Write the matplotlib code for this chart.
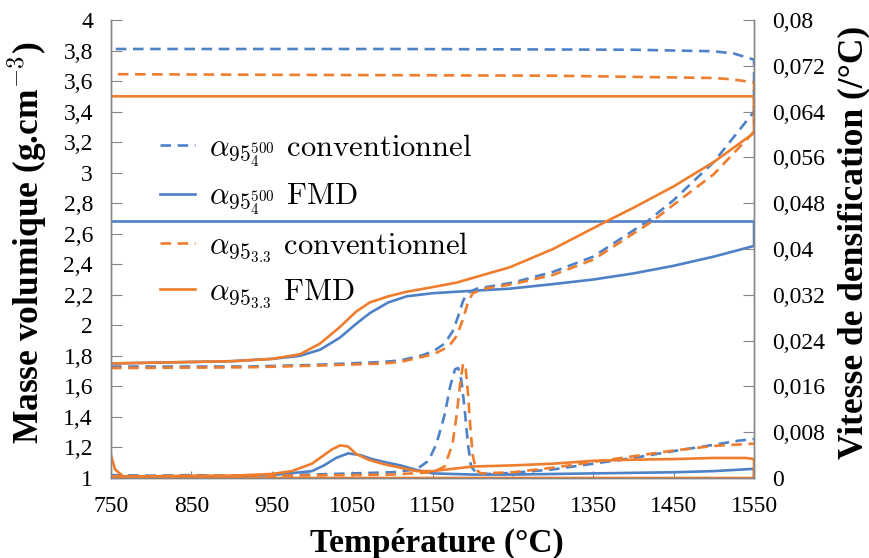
import matplotlib
matplotlib.use("Agg")
import matplotlib.pyplot as plt
from matplotlib.ticker import FuncFormatter

plt.rcParams['font.family'] = ['Liberation Serif', 'DejaVu Serif']
plt.rcParams['mathtext.fontset'] = 'cm'

BLUE = '#4F81C7'
ORANGE = '#EE7D2E'

# ---------------------------
# Masse volumique (left axis), heating + return at end of cycle
# ---------------------------
t_conv500 = [750, 920, 1000, 1088, 1110, 1135, 1151, 1165, 1175, 1182, 1188, 1193, 1205, 1250,
             1300, 1350, 1417, 1450, 1500, 1550, 1550, 1525, 1500, 1400, 1100, 750]
d_conv500 = [1.73, 1.73, 1.74, 1.76, 1.77, 1.80, 1.83, 1.88, 1.96, 2.06, 2.16, 2.21, 2.24, 2.28,
             2.35, 2.45, 2.68, 2.82, 3.07, 3.40, 3.74, 3.78, 3.795, 3.805, 3.81, 3.81]

t_fmd500 = [750, 900, 950, 985, 1010, 1035, 1055, 1072, 1095, 1118, 1150, 1180, 1246, 1300,
            1350, 1400, 1450, 1500, 1550, 1550, 750]
d_fmd500 = [1.75, 1.765, 1.78, 1.80, 1.84, 1.92, 2.01, 2.08, 2.15, 2.19, 2.21, 2.22, 2.24, 2.27,
            2.30, 2.34, 2.39, 2.45, 2.52, 2.68, 2.68]

t_conv33 = [750, 920, 1000, 1088, 1110, 1151, 1170, 1180, 1188, 1194, 1200, 1215, 1250, 1300,
            1350, 1423, 1450, 1500, 1545, 1550, 1550, 1525, 1500, 1300, 1000, 750]
d_conv33 = [1.72, 1.725, 1.735, 1.75, 1.76, 1.81, 1.86, 1.93, 2.04, 2.15, 2.21, 2.24, 2.27, 2.33,
            2.43, 2.68, 2.79, 2.99, 3.24, 3.27, 3.59, 3.61, 3.62, 3.635, 3.64, 3.645]

t_fmd33 = [750, 900, 950, 985, 1010, 1035, 1055, 1072, 1095, 1118, 1150, 1180, 1246, 1300,
           1366, 1400, 1450, 1500, 1550, 1550, 750]
d_fmd33 = [1.75, 1.765, 1.78, 1.81, 1.88, 1.99, 2.09, 2.15, 2.19, 2.22, 2.25, 2.28, 2.38, 2.50,
           2.68, 2.77, 2.91, 3.07, 3.26, 3.50, 3.50]

# ---------------------------
# Vitesse de densification (right axis)
# ---------------------------
t_rconv500 = [750, 800, 850, 900, 950, 1000, 1050, 1100, 1130, 1145, 1155, 1165, 1172, 1178,
              1182, 1186, 1190, 1194, 1198, 1205, 1220, 1250, 1300, 1350, 1400, 1450, 1500,
              1530, 1550]
r_conv500 = [0.0005, 0.0004, 0.0005, 0.0004, 0.0005, 0.0006, 0.0008, 0.0010, 0.0015, 0.003,
             0.006, 0.011, 0.016, 0.019, 0.0192, 0.017, 0.012, 0.006, 0.002, 0.0008, 0.0007,
             0.0009, 0.0015, 0.0025, 0.0035, 0.0047, 0.0058, 0.0065, 0.0068]

t_rconv33 = [750, 850, 950, 1050, 1100, 1150, 1165, 1175, 1180, 1184, 1188, 1191, 1194, 1197,
             1200, 1204, 1210, 1250, 1300, 1350, 1400, 1450, 1500, 1550]
r_conv33 = [0.0003, 0.0003, 0.0004, 0.0005, 0.0006, 0.0010, 0.002, 0.006, 0.011, 0.016, 0.0200,
            0.0195, 0.015, 0.009, 0.004, 0.0015, 0.0008, 0.0010, 0.0018, 0.0028, 0.0038, 0.0048,
            0.0056, 0.0060]

t_rfmd500 = [750, 800, 850, 900, 950, 1000, 1015, 1030, 1045, 1060, 1075, 1090, 1110, 1130,
             1150, 1200, 1250, 1300, 1350, 1400, 1450, 1500, 1550, 1550]
r_fmd500 = [0.0002, 0.0002, 0.0002, 0.0003, 0.0005, 0.0012, 0.0022, 0.0035, 0.0043, 0.0040,
            0.0033, 0.0028, 0.0022, 0.0014, 0.0008, 0.0006, 0.0006, 0.0007, 0.0008, 0.0009,
            0.0010, 0.0012, 0.0016, 0.0]

t_rfmd33 = [750, 755, 765, 800, 850, 900, 950, 975, 1000, 1015, 1025, 1035, 1045, 1055, 1070,
            1090, 1110, 1130, 1150, 1175, 1200, 1250, 1300, 1350, 1400, 1450, 1500, 1540, 1550,
            1550, 750]
r_fmd33 = [0.004, 0.0015, 0.0003, 0.0003, 0.0004, 0.0004, 0.0007, 0.0012, 0.0025, 0.004, 0.005,
           0.0057, 0.0055, 0.0042, 0.0032, 0.0024, 0.0018, 0.0012, 0.0012, 0.0016, 0.0020,
           0.0022, 0.0025, 0.0030, 0.0032, 0.0033, 0.0035, 0.0035, 0.0033, 0.0, 0.0]

labels = [r'$\alpha_{95_4^{500}}$ conventionnel', r'$\alpha_{95_4^{500}}$ FMD',
          r'$\alpha_{95_{3.3}}$ conventionnel', r'$\alpha_{95_{3.3}}$ FMD']

fig = plt.figure(figsize=(8.7, 5.58), dpi=100)
ax = fig.add_axes([0.1276, 0.1434, 0.7391, 0.8208])
ax2 = ax.twinx()

dash = (0, (4, 2.5))
lw = 1.9

l1, = ax.plot(t_conv500, d_conv500, color=BLUE, lw=lw, ls=dash)
l2, = ax.plot(t_fmd500, d_fmd500, color=BLUE, lw=lw)
l3, = ax.plot(t_conv33, d_conv33, color=ORANGE, lw=lw, ls=dash)
l4, = ax.plot(t_fmd33, d_fmd33, color=ORANGE, lw=lw)

ax2.plot(t_rconv500, r_conv500, color=BLUE, lw=lw, ls=dash)
ax2.plot(t_rfmd500, r_fmd500, color=BLUE, lw=lw)
ax2.plot(t_rconv33, r_conv33, color=ORANGE, lw=lw, ls=dash)
ax2.plot(t_rfmd33, r_fmd33, color=ORANGE, lw=lw)

ax.set_xlim(750, 1550)
ax.set_ylim(1, 4)
ax2.set_ylim(0, 0.08)
ax.set_xticks(range(750, 1551, 100))
ax.set_yticks([1 + 0.2 * i for i in range(16)])
ax2.set_yticks([0.008 * i for i in range(11)])


def comma(v, pos):
    s = ('%.3f' % v).rstrip('0').rstrip('.')
    return s.replace('.', ',')


ax.yaxis.set_major_formatter(FuncFormatter(comma))
ax2.yaxis.set_major_formatter(FuncFormatter(comma))

for a in (ax, ax2):
    a.spines['top'].set_visible(False)
    for side in ('left', 'right', 'bottom'):
        a.spines[side].set_color('#868686')
        a.spines[side].set_linewidth(1.0)
ax.tick_params(axis='y', direction='in', length=8, color='#868686', labelsize=17, pad=13)
ax2.tick_params(axis='y', direction='in', length=8, color='#868686', labelsize=17, pad=13)
ax.tick_params(axis='x', direction='in', length=5, color='#868686', labelsize=17, pad=13)

# axis titles
fig.text(0.5025, 0.027, 'Température (°C)', fontsize=24, fontweight='bold', ha='center', va='center')
fig.text(0.032, 0.565, r'Masse volumique (g.cm$^{\mathbf{-3}}$)', fontsize=25.5, fontweight='bold',
         rotation=90, ha='center', va='center')
fig.text(0.981, 0.565, 'Vitesse de densification (/°C)', fontsize=25.5, fontweight='bold',
         rotation=90, ha='center', va='center')

ax.legend([l1, l2, l3, l4], labels, loc='upper left', bbox_to_anchor=(0.076, 0.755),
          frameon=False, prop={'family': 'cmr10', 'size': 22}, handlelength=1.15,
          handletextpad=0.45, labelspacing=0.42, borderpad=0, borderaxespad=0)

fig.savefig('out.png', dpi=100)
